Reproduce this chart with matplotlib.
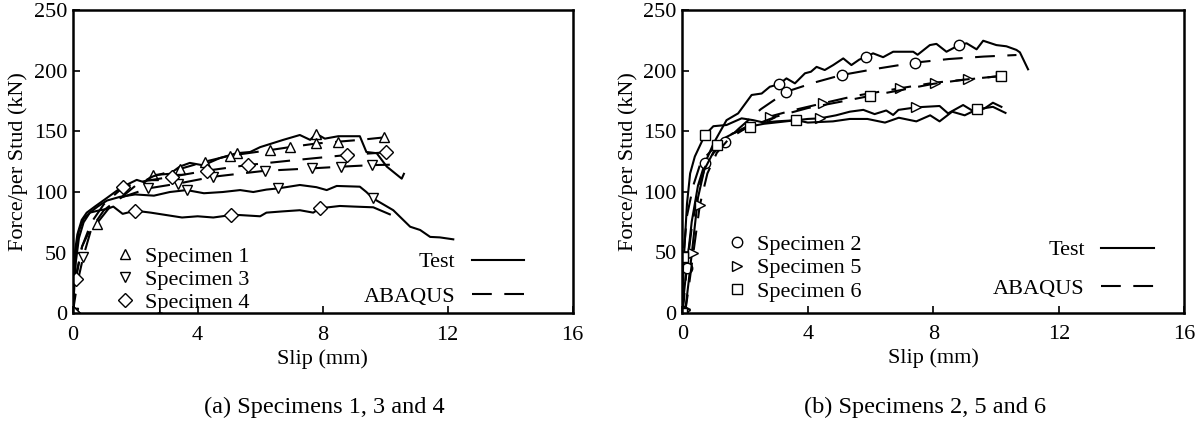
import numpy as np
import matplotlib
matplotlib.use("Agg")
import matplotlib.pyplot as plt
from matplotlib.lines import Line2D

plt.rcParams["font.family"] = "serif"
plt.rcParams["font.serif"] = ["Liberation Serif", "DejaVu Serif"]
plt.rcParams["mathtext.fontset"] = "stix"

# ---------------- data: (a) specimens 1, 3, 4 ----------------
t1_x = [0, 0.03, 0.07, 0.15, 0.29, 0.45, 0.71, 1.09, 1.57, 2.05, 2.3, 2.58, 3.11, 3.43, 3.75, 4.18,
        4.71, 5.25, 5.68, 6.0, 6.74, 7.27, 7.6, 7.8, 8.07, 8.5, 9.19, 9.4, 9.73, 10.05, 10.53, 10.6]
t1_y = [0, 25, 50, 65, 77, 83, 88, 95, 104, 110, 108, 114, 115, 121, 124, 122,
        128, 132, 133, 137, 143, 147, 143, 148, 144, 146, 146, 133, 132, 121, 111, 115]
t1_mk = [0, 11, 17, 23]

t3_x = [0, 0.05, 0.1, 0.2, 0.35, 0.55, 0.8, 1.1, 1.51, 2.0, 2.6, 3.11, 3.65, 4.2, 4.8, 5.36, 5.78,
        6.2, 6.58, 7.27, 7.8, 8.13, 8.45, 9.19, 9.4, 9.6, 9.73, 10.26, 10.8, 11.12, 11.44, 11.75, 12.18]
t3_y = [0, 20, 42, 62, 75, 83, 88, 93, 96, 98, 97, 100, 101.6, 99, 100, 101.6, 100,
        102, 103, 105.8, 104, 101.6, 105, 104.4, 100, 95, 93, 85, 71.4, 68.7, 63, 62.6, 61]
t3_mk = [0, 12, 18, 25]

t4_x = [0, 0.04, 0.1, 0.2, 0.35, 0.55, 0.87, 1.1, 1.3, 1.6, 2.0, 2.5, 3.0, 3.5, 4.0, 4.5, 5.07,
        5.36, 6.0, 6.2, 6.7, 7.27, 7.7, 7.91, 8.55, 9.0, 9.62, 10.15]
t4_y = [0, 25, 50, 68, 78, 83, 85, 86, 88, 82, 84.6, 83, 81, 79, 80, 79, 81,
        81, 80, 83, 84, 85, 83, 86.6, 88.5, 88, 87.4, 81.6]
t4_mk = [0, 10, 16, 23]

a1_x = [0, 0.1, 0.3, 0.5, 0.77, 1.2, 2.0, 2.58, 3.43, 4.23, 5.03, 5.6, 6.32, 6.95, 7.8, 8.5, 9.2, 9.96]
a1_y = [0, 30, 55, 66, 74, 88, 105, 113, 119, 125, 130, 132, 134.6, 137, 140, 141.5, 143, 145]
a1_mk = [0, 4, 8, 9, 10, 12, 13, 14, 15, 17]

a3_x = [0, 0.15, 0.34, 0.6, 1.0, 1.5, 2.42, 3.38, 4.5, 6.15, 7.65, 8.6, 9.59, 10.15]
a3_y = [0, 25, 46.7, 70, 85, 95, 103, 107, 112.6, 117.5, 119.5, 120.9, 122.2, 122.5]
a3_mk = [0, 2, 6, 7, 8, 9, 10, 11, 12]

a4_x = [0, 0.1, 0.3, 0.6, 1.0, 1.62, 2.3, 3.17, 4.29, 5.62, 7.0, 8.77, 10.02]
a4_y = [0, 28, 55, 75, 90, 104, 109, 112.6, 117.6, 122.3, 126, 130.5, 132.7]
a4_mk = [0, 1, 5, 7, 8, 9, 11, 12]

# ---------------- data: (b) specimens 2, 5, 6 ----------------
t2_x = [0, 0.05, 0.15, 0.3, 0.5, 0.72, 1.0, 1.41, 1.78, 2.21, 2.53, 2.79, 3.08, 3.32, 3.59, 3.91,
        4.1, 4.28, 4.54, 4.81, 5.13, 5.39, 5.64, 5.87, 6.08, 6.4, 6.72, 7.36, 7.5, 7.89, 8.1,
        8.42, 8.82, 9.06, 9.38, 9.59, 10.01, 10.33, 10.65, 10.76, 11.02]
t2_y = [0, 15, 40, 75, 105, 123.4, 140, 159, 164.6, 179.8, 181, 186.6, 188.6, 193.5, 189.4, 197.7,
        199, 203, 200.4, 204.5, 210, 204.5, 209, 211.4, 214.2, 211, 215.5, 215.5, 213, 221, 222,
        215.5, 221, 222.5, 217.5, 224.6, 221, 220, 217, 215, 201]
t2_mk = [0, 5, 12, 23, 32]

t5_x = [0, 0.1, 0.2, 0.35, 0.5, 0.7, 1.0, 1.4, 2.0, 2.6, 3.3, 4.0, 4.39, 4.9, 5.34, 5.77, 6.13,
        6.5, 6.72, 6.89, 7.46, 8.2, 8.47, 8.95, 9.3, 9.64, 9.9, 10.17]
t5_y = [0, 3, 25, 60, 95, 118, 133, 145, 153, 156, 158, 160, 160.5, 163, 166, 167.5, 164,
        167, 163.3, 167.5, 169.6, 170.7, 164.6, 171.5, 166, 168.8, 173.4, 170]
t5_mk = [1, 12, 20]

t6_x = [0, 0.05, 0.15, 0.25, 0.4, 0.72, 0.99, 1.41, 1.89, 2.26, 2.6, 3.0, 3.64, 4.0, 4.39, 4.8,
        5.34, 5.9, 6.46, 6.9, 7.46, 7.9, 8.2, 8.6, 9.0, 9.4, 9.9, 10.3]
t6_y = [0, 45, 90, 115, 129, 146.7, 154, 155, 160.5, 159, 157, 158, 159, 157, 157.5, 158,
        160, 160, 157, 161, 158, 163, 158, 166, 163, 168, 170, 165]
t6_mk = [0, 5, 12, 25]

a2_x = [0, 0.05, 0.14, 0.3, 0.5, 0.72, 1.0, 1.36, 1.8, 2.5, 3.32, 4.2, 5.08, 6.2, 7.41, 8.5, 9.6, 10.65]
a2_y = [0, 10, 36.7, 70, 100, 120, 132, 141.2, 152, 168, 182.5, 190, 196.3, 201.5, 206.5, 209.5, 211.5, 212.8]
a2_mk = [0, 2, 7, 10, 12, 14]

a5_x = [0, 0.1, 0.2, 0.35, 0.56, 0.8, 1.1, 1.5, 2.0, 2.79, 3.5, 4.49, 5.5, 6.93, 8.05, 9.11, 10.17]
a5_y = [0, 2, 20, 49, 89, 115, 132, 144, 152, 162, 167, 173, 179, 185.3, 190, 192.7, 195.5]
a5_mk = [1, 3, 4, 9, 11, 13, 14, 15, 16]

a6_x = [0, 0.03, 0.15, 0.35, 0.6, 1.1, 1.6, 2.16, 3.0, 4.0, 5.0, 5.98, 7.0, 8.0, 9.0, 10.17]
a6_y = [0, 46, 80, 105, 125, 138.5, 148, 153.6, 162, 169, 174, 179, 184, 189, 192.5, 195.5]
a6_mk = [0, 1, 5, 7, 11, 15]

x_ticks = [0, 4, 8, 12, 16]
y_ticks = [0, 50, 100, 150, 200, 250]

FS = 16
LW = 1.5
DASH = (9.5, 6)
MS = 7.5


def curve(ax, x, y, mk, marker, dashed):
    ls = "--" if dashed else "-"
    ln, = ax.plot(x, y, color="black", lw=LW, ls=ls, marker=marker, markevery=mk,
                  ms=MS, mfc="white", mec="black", mew=1.0)
    if dashed:
        ln.set_dashes(DASH)


def style(ax):
    ax.set_xlim(0, 16)
    ax.set_ylim(0, 250)
    ax.set_xticks(x_ticks)
    ax.set_yticks(y_ticks)
    ax.tick_params(direction="in", length=5, width=1.2, labelsize=FS)
    ax.tick_params(axis="x", pad=9)
    ax.tick_params(axis="y", pad=4)
    for s in ax.spines.values():
        s.set_linewidth(1.8)
    ax.set_xlabel("Slip (mm)", fontsize=FS, labelpad=3)
    ax.set_ylabel("Force/per Stud (kN)", fontsize=FS, labelpad=4)


def legends(ax, names, markers, anchor_l, anchor_r, gap):
    h1 = [Line2D([], [], ls="none", marker=m, ms=MS, mfc="white", mec="black", mew=1.0)
          for m in markers]
    leg1 = ax.legend(h1, names, loc="lower left", bbox_to_anchor=anchor_l, frameon=False,
                     fontsize=FS, handlelength=0.8, handletextpad=0.5, labelspacing=0.12,
                     borderpad=0.2)
    ax.add_artist(leg1)
    h2 = [Line2D([], [], color="black", lw=LW),
          Line2D([], [], color="black", lw=LW, dashes=DASH)]
    ax.legend(h2, ["Test", "ABAQUS"], loc="lower right", bbox_to_anchor=anchor_r,
              frameon=False, fontsize=FS, markerfirst=False, handlelength=2.35,
              handletextpad=0.75, labelspacing=gap, borderpad=0.2)


fig = plt.figure(figsize=(11.97, 4.24), dpi=100)
ax1 = fig.add_axes([0.0607, 0.261, 0.4177, 0.7153])
ax2 = fig.add_axes([0.570, 0.2625, 0.4194, 0.714])

curve(ax1, t1_x, t1_y, t1_mk, "^", False)
curve(ax1, t3_x, t3_y, t3_mk, "v", False)
curve(ax1, t4_x, t4_y, t4_mk, "D", False)
curve(ax1, a1_x, a1_y, a1_mk, "^", True)
curve(ax1, a3_x, a3_y, a3_mk, "v", True)
curve(ax1, a4_x, a4_y, a4_mk, "D", True)
style(ax1)
legends(ax1, ["Specimen 1", "Specimen 3", "Specimen 4"], ["^", "v", "D"],
        (0.056, -0.05), (0.934, -0.03), 0.63)

curve(ax2, t2_x, t2_y, t2_mk, "o", False)
curve(ax2, t5_x, t5_y, t5_mk, ">", False)
curve(ax2, t6_x, t6_y, t6_mk, "s", False)
curve(ax2, a2_x, a2_y, a2_mk, "o", True)
curve(ax2, a5_x, a5_y, a5_mk, ">", True)
curve(ax2, a6_x, a6_y, a6_mk, "s", True)
style(ax2)
legends(ax2, ["Specimen 2", "Specimen 5", "Specimen 6"], ["o", ">", "s"],
        (0.06, -0.015), (0.97, -0.005), 0.8)

fig.text(0.2707, 0.04, "(a) Specimens 1, 3 and 4", ha="center", va="center", fontsize=17.5)
fig.text(0.773, 0.04, "(b) Specimens 2, 5 and 6", ha="center", va="center", fontsize=17.5)

fig.savefig("out.png", dpi=100)
